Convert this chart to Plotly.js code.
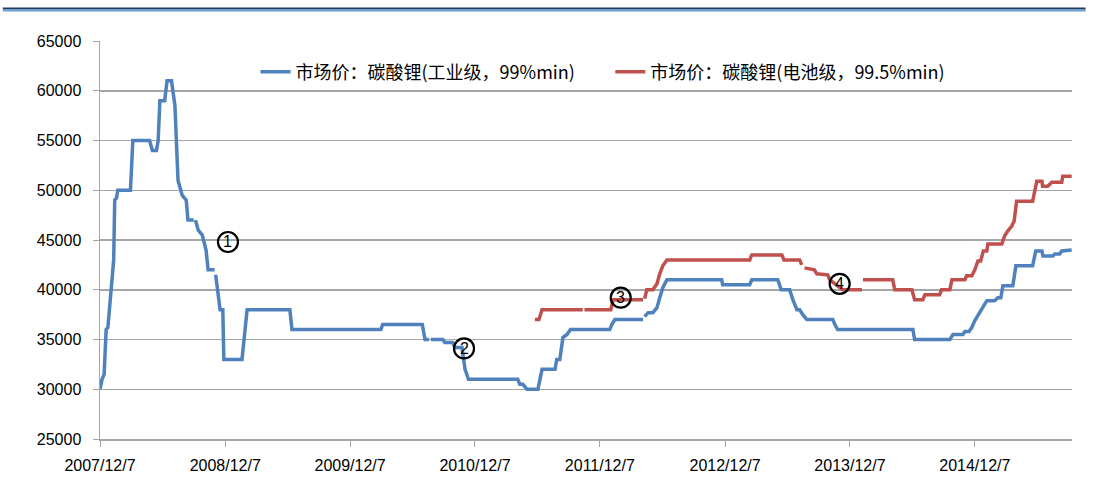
<!DOCTYPE html>
<html><head><meta charset="utf-8">
<script src="https://cdn.plot.ly/plotly-3.0.1.min.js"></script>
<style>html,body{margin:0;padding:0;background:#fff}#chart{width:1096px;height:491px}</style>
</head><body><div id="chart"></div>
<script>
// 市场价：碳酸锂(工业级，99%min)
const industrialDates = [
'2007-12-07','2007-12-13','2007-12-19','2007-12-25','2007-12-30','2008-01-12','2008-01-16','2008-01-19','2008-01-24','2008-01-28',
'2008-03-05','2008-03-12','2008-04-30','2008-05-08','2008-05-20','2008-05-25','2008-05-30','2008-06-13','2008-06-20','2008-07-03',
'2008-07-13','2008-07-22','2008-08-03','2008-08-15','2008-08-20','2008-09-06','2008-09-08','2008-09-11','2008-09-19','2008-10-01',
'2008-10-12','2008-10-18','2008-11-06','2008-11-07','2008-11-09','2008-11-22','2008-11-30','2008-12-03','2009-01-25','2009-02-09',
'2009-06-14','2009-06-20','2010-03-07','2010-03-12','2010-07-06','2010-07-14','2010-07-26','2010-07-28','2010-07-31','2010-09-04',
'2010-09-10','2010-10-03','2010-10-09','2010-10-30','2010-11-08','2010-11-18','2011-04-11','2011-04-17','2011-04-26','2011-05-08',
'2011-06-09','2011-06-15','2011-06-21','2011-07-29','2011-08-03','2011-08-12','2011-08-21','2011-09-02','2011-09-12','2012-01-05',
'2012-01-11','2012-01-20','2012-04-11','2012-04-13','2012-04-16','2012-04-26','2012-05-10','2012-05-22','2012-05-30','2012-06-08',
'2012-06-20','2012-11-27','2012-11-30','2013-02-17','2013-02-23','2013-05-10','2013-05-20','2013-06-14','2013-06-23','2013-07-05',
'2013-07-13','2013-07-22','2013-08-03','2013-10-18','2013-10-24','2013-11-01','2014-06-09','2014-06-14','2014-09-25','2014-10-04',
'2014-11-02','2014-11-08','2014-11-20','2014-11-28','2014-12-07','2014-12-16','2014-12-25','2015-01-03','2015-01-11','2015-02-03',
'2015-02-12','2015-02-21','2015-02-27','2015-03-28','2015-04-06','2015-05-25','2015-06-03','2015-06-21','2015-06-24','2015-07-23',
'2015-07-29','2015-08-12','2015-08-18','2015-09-16'];
const industrialPrices = [
30000,31000,31500,36000,36200,42000,43000,49000,49200,50000,
50000,55000,55000,54000,54000,55000,59000,59000,61000,61000,
58500,51000,49500,49000,47000,47000,null,47000,46000,45500,
44000,42000,42000,null,41500,38000,38000,33000,33000,38000,
38000,36000,36000,36500,36500,35000,35000,null,35000,35000,
34700,34700,34200,34200,32000,31000,31000,30500,30500,30000,
30000,31000,32000,32000,33000,33000,35200,35500,36000,36000,
36500,37000,37000,null,37300,37700,37700,38200,39200,40200,
41000,41000,40500,40500,41000,41000,40000,40000,39000,38000,
38000,37500,37000,37000,36500,36000,36000,35000,35000,35500,
35500,35800,35800,36200,36900,37400,37900,38400,38900,38900,
39200,39200,40400,40400,42400,42400,43900,43900,43400,43400,
43600,43600,43900,44000];

// 市场价：碳酸锂(电池级，99.5%min)
const batteryDates = [
'2011-05-31','2011-06-12','2011-06-21','2011-10-18','2011-10-20','2011-10-23','2012-01-08','2012-01-15','2012-04-11','2012-04-13',
'2012-04-16','2012-04-22','2012-05-10','2012-05-22','2012-05-30','2012-06-08','2012-06-20','2013-02-17','2013-02-23','2013-05-22',
'2013-05-28','2013-07-13','2013-07-19','2013-07-23','2013-07-27','2013-08-25','2013-09-01','2013-10-03','2013-10-09','2013-11-16',
'2014-01-11','2014-01-12','2014-01-14','2014-04-11','2014-04-17','2014-06-06','2014-06-14','2014-07-08','2014-07-14','2014-08-26',
'2014-09-01','2014-09-25','2014-10-01','2014-11-08','2014-11-13','2014-11-28','2014-12-07','2014-12-16','2014-12-24','2015-01-01',
'2015-01-11','2015-01-14','2015-02-24','2015-03-04','2015-03-13','2015-03-25','2015-04-01','2015-04-08','2015-05-25','2015-06-06',
'2015-06-21','2015-06-23','2015-07-08','2015-07-20','2015-08-18','2015-08-21','2015-09-16'];
const batteryPrices = [
37000,37000,38000,38000,null,38000,38000,39000,39000,null,
39100,40000,40000,40600,41600,42400,43000,43000,43500,43500,
43000,43000,42500,null,42200,42000,41600,41500,41000,40000,
40000,null,41000,41000,40000,40000,39000,39000,39500,39500,
40000,40000,41000,41000,41400,41400,42000,42900,42900,43900,
43900,44600,44600,45400,45900,46400,46900,48900,48900,50900,
50900,50400,50400,50800,50800,51400,51400];

const tickDates = ['2007-12-07','2008-12-07','2009-12-07','2010-12-07','2011-12-07','2012-12-07','2013-12-07','2014-12-07'];
const tickLabels = ['2007/12/7','2008/12/7','2009/12/7','2010/12/7','2011/12/7','2012/12/7','2013/12/7','2014/12/7'];

const noteLabels = ['1','2','3','4'];
const noteDates = ['2008-12-15','2010-11-05','2012-02-06','2013-11-07'];
const notePrices = [44800, 34100, 39200, 40600];

const seriesNames = ['市场价：碳酸锂(工业级，99%min)', '市场价：碳酸锂(电池级，99.5%min)'];

const tickFont = {family: 'Liberation Sans, Arial, sans-serif', size: 16, color: '#000'};
const legendFont = {family: 'Noto Sans CJK SC, sans-serif', size: 18, color: '#000'};

const traces = [
  {x: industrialDates, y: industrialPrices, type: 'scatter', mode: 'lines', name: seriesNames[0],
   line: {color: '#4F81BD', width: 3.5}, connectgaps: false, legend: 'legend'},
  {x: batteryDates, y: batteryPrices, type: 'scatter', mode: 'lines', name: seriesNames[1],
   line: {color: '#C0504D', width: 3.5}, connectgaps: false, legend: 'legend2'}
];

const shapes = noteDates.map((d, i) => ({
  type: 'circle', xref: 'x', yref: 'y', xsizemode: 'pixel', ysizemode: 'pixel',
  xanchor: d, yanchor: notePrices[i], x0: -10, x1: 10, y0: -10, y1: 10,
  line: {color: '#000', width: 2.2}, fillcolor: 'rgba(0,0,0,0)', layer: 'above'
}));
shapes.push({type: 'line', xref: 'paper', yref: 'paper', x0: -0.1, x1: 1.014, y0: 1.0817, y1: 1.0817,
  line: {color: '#1F3864', width: 2}});
shapes.push({type: 'line', xref: 'paper', yref: 'paper', x0: -0.1, x1: 1.014, y0: 1.0767, y1: 1.0767,
  line: {color: '#6A9FD3', width: 2}});

const annotations = noteDates.map((d, i) => ({
  x: d, y: notePrices[i], xref: 'x', yref: 'y', text: noteLabels[i], showarrow: false,
  font: {family: 'Liberation Sans, Arial, sans-serif', size: 16, color: '#000'}
}));

const layout = {
  width: 1096, height: 491,
  margin: {l: 100, r: 24, t: 41, b: 52},
  paper_bgcolor: '#fff', plot_bgcolor: '#fff',
  showlegend: true,
  legend: {orientation: 'h', x: 0.160, xanchor: 'left', y: 0.922, yanchor: 'middle',
    font: legendFont, bgcolor: 'rgba(0,0,0,0)', borderwidth: 0},
  legend2: {orientation: 'h', x: 0.525, xanchor: 'left', y: 0.922, yanchor: 'middle',
    font: legendFont, bgcolor: 'rgba(0,0,0,0)', borderwidth: 0},
  xaxis: {type: 'date', range: ['2007-12-07', '2015-09-17'], tickmode: 'array',
    tickvals: tickDates, ticktext: tickLabels, ticks: 'outside', ticklen: 6, tickcolor: '#a6a6a6',
    showline: true, linecolor: '#a6a6a6', linewidth: 1.5, showgrid: false, zeroline: false,
    tickfont: tickFont, ticklabelstandoff: 5},
  yaxis: {range: [25000, 65000], dtick: 5000, tick0: 25000, tickformat: 'd', ticks: 'outside',
    ticklen: 6, tickcolor: '#a6a6a6', showline: true, linecolor: '#a6a6a6', linewidth: 1.5,
    showgrid: true, gridcolor: '#a6a6a6', gridwidth: 1.5, zeroline: false, tickfont: tickFont,
    ticklabelstandoff: 8},
  shapes: shapes,
  annotations: annotations
};

Plotly.newPlot('chart', traces, layout, {displayModeBar: false, staticPlot: true});
</script>
</body></html>
